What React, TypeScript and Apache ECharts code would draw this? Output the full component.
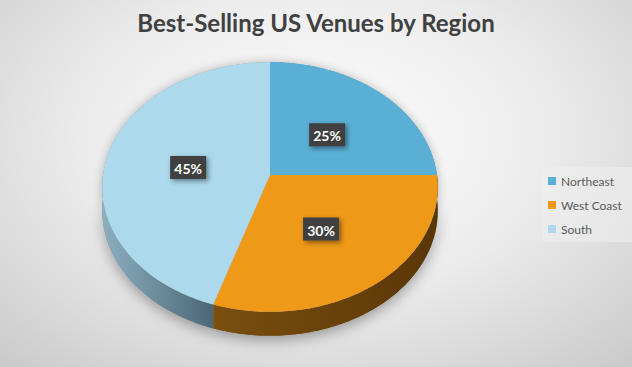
import React, { useEffect, useRef } from "react";
import * as echarts from "echarts";

const title = "Best-Selling US Venues by Region";
const regions = ["Northeast", "West Coast", "South"];
const shares = [25, 30, 45];
const labels = ["25%", "30%", "45%"];
const topColors = ["#5aafd5", "#ef9918", "#acd9ec"];
const sideColors = [
  ["#3f7d99", "#2c5a70"],
  ["#7a4f0f", "#5a3707"],
  ["#8cb0c0", "#4c6676"],
];

const R = 167;
const CX = 270;
const CY = 175;
const TILT = 0.741;
const DIST = 1742;
const DEPTH = 24;

function proj(theta: number, r: number, dy = 0): number[] {
  const t = (theta * Math.PI) / 180;
  const X = r * Math.sin(t);
  const Z = r * Math.cos(t);
  const f = DIST / (DIST + Z);
  return [CX + X * f, CY - Z * TILT * f + dy];
}

function arcPoints(a0: number, a1: number, dy = 0): number[][] {
  const pts: number[][] = [];
  const n = Math.max(2, Math.ceil(Math.abs(a1 - a0)));
  for (let i = 0; i <= n; i++) {
    pts.push(proj(a0 + ((a1 - a0) * i) / n, R, dy));
  }
  return pts;
}

export default function App() {
  const ref = useRef<HTMLDivElement>(null);
  useEffect(() => {
    if (!ref.current) return;
    const chart = echarts.init(ref.current, undefined, { renderer: "svg" });
    const total = shares.reduce((a, b) => a + b, 0);
    let cum = 0;
    const series = regions.map((name, i) => {
      const start = cum;
      cum += shares[i];
      return {
        type: "custom",
        name,
        coordinateSystem: "none",
        itemStyle: { color: topColors[i] },
        data: [[start, shares[i], total]],
        renderItem: (params: any, api: any) => {
          const s = api.value(0);
          const v = api.value(1);
          const tot = api.value(2);
          const a0 = (s / tot) * 360;
          const a1 = ((s + v) / tot) * 360;
          const children: any[] = [];
          const top = [[CX, CY], ...arcPoints(a0, a1)];
          const sa = Math.max(a0, 90);
          const sb = Math.min(a1, 270);
          if (sb > sa) {
            const upper = arcPoints(sa, sb);
            const lower = arcPoints(sa, sb, DEPTH).reverse();
            const poly = [...upper, ...lower];
            children.push({
              type: "polygon",
              z2: 0,
              shape: { points: poly },
              style: {
                fill: "#888",
                shadowBlur: 14,
                shadowOffsetY: 4,
                shadowColor: "rgba(0,0,0,0.35)",
              },
            });
            children.push({
              type: "polygon",
              z2: 2,
              shape: { points: poly },
              style: {
                fill: new echarts.graphic.LinearGradient(0, 0, 1, 0, [
                  { offset: 0, color: sideColors[i][0] },
                  { offset: 1, color: sideColors[i][1] },
                ]),
              },
            });
          }
          children.push({
            type: "polygon",
            z2: 0,
            shape: { points: top },
            style: {
              fill: "#999",
              shadowBlur: 10,
              shadowColor: "rgba(0,0,0,0.25)",
            },
          });
          children.push({
            type: "polygon",
            z2: 5,
            shape: { points: top },
            style: { fill: topColors[i] },
          });
          const mid = (a0 + a1) / 2;
          const lp = proj(mid, R * 0.5);
          const bw = 36;
          const bh = 23;
          children.push({
            type: "rect",
            z2: 10,
            shape: { x: lp[0] - bw / 2, y: lp[1] - bh / 2 + 2, width: bw, height: bh },
            style: {
              fill: "#404040",
              shadowBlur: 5,
              shadowOffsetX: 2,
              shadowOffsetY: 2,
              shadowColor: "rgba(0,0,0,0.45)",
            },
          });
          children.push({
            type: "text",
            z2: 11,
            x: lp[0],
            y: lp[1] + 3,
            style: {
              text: labels[i],
              fill: "#ffffff",
              font: "bold 14px Lato, 'Open Sans', sans-serif",
              align: "center",
              verticalAlign: "middle",
            },
          });
          return { type: "group", children };
        },
      };
    });

    chart.setOption({
      animation: false,
      backgroundColor: "transparent",
      title: {
        text: title,
        left: "center",
        top: 10,
        padding: 0,
        textStyle: {
          fontFamily: "Lato, 'Open Sans', sans-serif",
          fontWeight: "bold",
          fontSize: 24,
          color: "#404040",
        },
      },
      legend: {
        orient: "vertical",
        left: 542,
        top: 167,
        padding: [7, 14, 6, 6],
        itemGap: 10,
        itemWidth: 8,
        itemHeight: 8,
        itemTextGap: 3,
        icon: "rect",
        backgroundColor: "rgba(238,238,238,0.55)",
        data: regions,
        textStyle: {
          fontFamily: "Lato, 'Open Sans', sans-serif",
          fontSize: 12,
          lineHeight: 14,
          color: "#595959",
        },
      },
      series,
    });
    return () => chart.dispose();
  }, []);
  return (
    <div
      ref={ref}
      style={{
        position: "absolute",
        left: 0,
        top: 0,
        width: 632,
        height: 367,
        background:
          "radial-gradient(ellipse 75% 85% at 50% 38%, #ffffff 0%, #ebebeb 50%, #c9c9c9 100%)",
      }}
    />
  );
}
